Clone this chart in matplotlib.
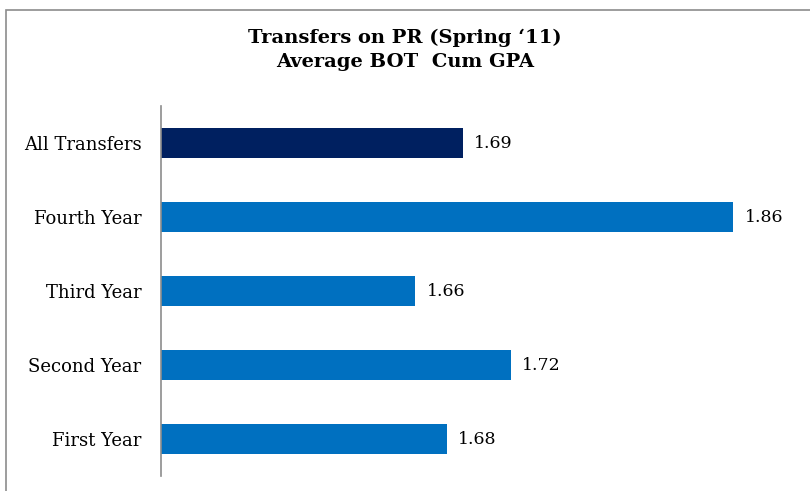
import matplotlib
matplotlib.use("Agg")
import matplotlib.pyplot as plt
from matplotlib.patches import Rectangle

categories = ['First Year', 'Second Year', 'Third Year', 'Fourth Year', 'All Transfers']
gpa = [1.68, 1.72, 1.66, 1.86, 1.69]
bar_colors = ['#0070C0', '#0070C0', '#0070C0', '#0070C0', '#002060']

plt.rcParams['font.family'] = ['DejaVu Serif']

fig = plt.figure(figsize=(8.1, 4.91), dpi=100)
ax = fig.add_axes([161 / 810, 1 - 476 / 491, (797 - 161) / 810, 370 / 491])

y = range(len(categories))
ax.barh(y, gpa, height=0.4, color=bar_colors, left=0)
ax.set_xlim(1.5, 1.9)
ax.set_ylim(-0.5, len(categories) - 0.5)

for i, v in enumerate(gpa):
    ax.annotate(f'{v:.2f}', xy=(v, i), xytext=(8, 0), textcoords='offset points',
                va='center', ha='left', fontsize=12.5, color='#000000')

ax.set_yticks(list(y))
ax.set_yticklabels(categories, fontsize=13)
ax.tick_params(axis='y', length=0, pad=14)
ax.set_xticks([])
for s in ['top', 'right', 'bottom']:
    ax.spines[s].set_visible(False)
ax.spines['left'].set_color('#8c8c8c')
ax.spines['left'].set_linewidth(1.2)

fig.text(0.5, 1 - 38 / 491, 'Transfers on PR (Spring \u201811)', ha='center', va='center',
         fontsize=14, fontweight='bold')
fig.text(0.5, 1 - 62 / 491, 'Average BOT  Cum GPA', ha='center', va='center',
         fontsize=14, fontweight='bold')

# outer chart border (only left and top are inside the picture)
fig.patches.append(Rectangle((6 / 810, -0.1), 1.2, 1 - 10 / 491 + 0.1,
                             transform=fig.transFigure, fill=False,
                             edgecolor='#8c8c8c', linewidth=1.2))

fig.savefig('out.png', dpi=100)
